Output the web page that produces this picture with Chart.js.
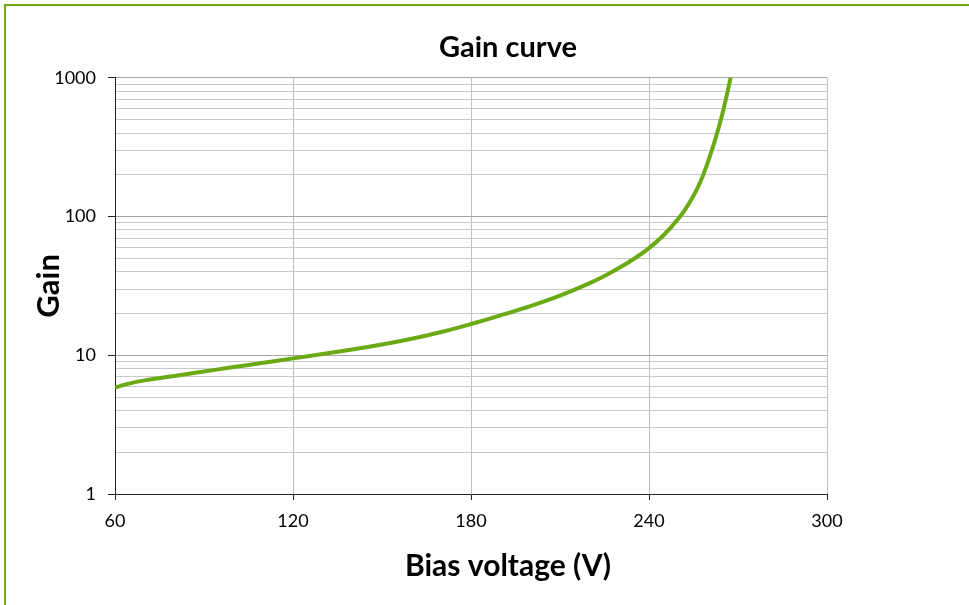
<!DOCTYPE html>
<html>
<head>
<meta charset="utf-8">
<script src="https://cdn.jsdelivr.net/npm/chart.js@4.4.1/dist/chart.umd.min.js"></script>
<style>
  html, body { margin: 0; padding: 0; background: #fff; overflow: hidden; }
  #frame { position: absolute; left: 4px; top: 4px; width: 1100px; height: 700px;
           border-left: 2px solid #6aaa14; border-top: 2px solid #6aaa14; }
  #gainChart { position: absolute; left: 0; top: 0; }
</style>
</head>
<body>
<div id="frame"></div>
<canvas id="gainChart" width="1016" height="605"></canvas>
<script>
// bias voltage (V) and gain
const volts = [60, 65, 70, 80, 90, 100, 110, 120, 130, 140, 150, 160, 170, 180, 190,
               200, 210, 220, 225, 230, 235, 240, 245, 250, 252.5, 255, 256.5, 258,
               259.5, 261, 262, 263, 264, 265, 266, 267.5];
const gain  = [5.85, 6.27, 6.59, 7.1, 7.64, 8.22, 8.83, 9.5, 10.2, 11.0, 11.95, 13.15, 14.7, 16.8, 19.4,
               22.6, 26.9, 33.1, 37.3, 42.7, 49.6, 59.2, 73.6, 97, 115, 141, 163, 193,
               235, 292, 341, 402, 479, 579, 713, 1000];

const xTicks = [60, 120, 180, 240, 300];
const yTicks = [1, 10, 100, 1000];

const GREEN = '#6aaa14';
const FONT = 'Lato, "Open Sans", sans-serif';

// minor grid: 1..9 within each decade
const yGrid = [];
for (let d = 0; d < yTicks.length - 1; d++) {
  for (let k = 1; k < 10; k++) yGrid.push(yTicks[d] * k);
}
yGrid.push(yTicks[yTicks.length - 1]);

const isMajor = v => yTicks.includes(v);

new Chart(document.getElementById('gainChart'), {
  type: 'scatter',
  data: {
    datasets: [{
      label: 'Gain',
      data: volts.map((v, i) => ({ x: v, y: gain[i] })),
      showLine: true,
      borderColor: GREEN,
      borderWidth: 4,
      pointRadius: 0,
      cubicInterpolationMode: 'monotone',
      clip: false
    }]
  },
  options: {
    responsive: false,
    animation: false,
    layout: { padding: 0 },
    plugins: {
      legend: { display: false },
      tooltip: { enabled: false },
      title: {
        display: true, text: 'Gain curve', color: '#000',
        font: { family: FONT, size: 29, weight: 'bold' },
        padding: { top: 30, bottom: 13 }
      },
      subtitle: {
        display: true, text: 'Bias voltage (V)', position: 'bottom', color: '#000',
        font: { family: FONT, size: 30, weight: 'bold' },
        padding: { top: 16, bottom: 21 }
      }
    },
    scales: {
      x: {
        type: 'linear', min: 60, max: 300,
        afterBuildTicks: s => { s.ticks = xTicks.map(v => ({ value: v })); },
        afterFit: s => { s.height = 38; },
        ticks: { color: '#000', padding: 10, font: { family: FONT, size: 18 } },
        grid: { color: '#c0c0c0', tickColor: '#222', tickLength: 6 },
        border: { color: '#222', width: 1 }
      },
      y: {
        type: 'logarithmic', min: 1, max: 1000,
        afterBuildTicks: s => { s.ticks = yGrid.map(v => ({ value: v })); },
        afterFit: s => { s.width = 115; },
        ticks: {
          color: '#000', padding: 12, autoSkip: false,
          font: { family: FONT, size: 18 },
          callback: v => isMajor(v) ? String(v) : ''
        },
        grid: {
          color: c => isMajor(c.tick.value) ? '#a6a6a6' : '#c8c8c8',
          tickColor: c => isMajor(c.tick.value) ? '#222' : 'rgba(0,0,0,0)',
          tickLength: 7
        },
        border: { color: '#222', width: 1 },
        title: {
          display: true, text: 'Gain', color: '#000',
          font: { family: FONT, size: 31, weight: 'bold' },
          padding: { top: 30, bottom: 0 }
        }
      },
      // empty right-hand box so the titles sit where the original chart centred them
      yRight: {
        type: 'linear', position: 'right', display: true,
        afterFit: s => { s.width = 189; },
        ticks: { display: false },
        grid: { display: false, drawTicks: false },
        border: { display: false }
      }
    }
  }
});
</script>
</body>
</html>
